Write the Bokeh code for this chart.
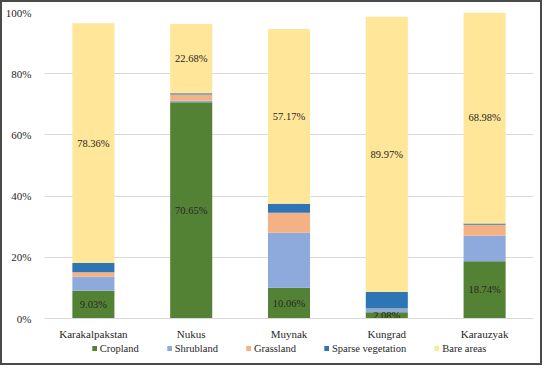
from bokeh.plotting import figure
from bokeh.layouts import column
from bokeh.models import FactorRange, Range1d, Legend, LegendItem, PrintfTickFormatter, ColumnDataSource
from bokeh.core.properties import value
from bokeh.embed import file_html
from bokeh.resources import INLINE

categories = ["Karakalpakstan", "Nukus", "Muynak", "Kungrad", "Karauzyak"]
cropland = [9.03, 70.65, 10.06, 2.08, 18.74]
shrubland = [4.6, 0.5, 18.0, 1.0, 8.3]
grassland = [1.5, 2.05, 6.5, 0.15, 3.6]
sparse = [3.0, 0.4, 2.9, 5.4, 0.4]
bare = [78.36, 22.68, 57.17, 89.97, 68.98]

series = ["Cropland", "Shrubland", "Grassland", "Sparse vegetation", "Bare areas"]
colors = ["#548235", "#8EA9DB", "#F4B183", "#2E75B6", "#FFE699"]

FONT = "Liberation Serif"
TXT = "#262626"
EDGE = "2px solid #4a4a4a"
W = 542
ML, MR = 38, 11

data = dict(cat=categories, Cropland=cropland, Shrubland=shrubland, Grassland=grassland,
            **{"Sparse vegetation": sparse, "Bare areas": bare})
src = ColumnDataSource(data)

p = figure(x_range=FactorRange(*categories), y_range=Range1d(0, 100),
           width=W, height=340, output_backend="svg", toolbar_location=None,
           min_border_left=ML, min_border_right=MR, min_border_top=10, min_border_bottom=20)
p.styles = {"border-top": EDGE, "border-left": EDGE, "border-right": EDGE}

p.vbar_stack(series, x="cat", width=0.43, color=colors, source=src, line_width=0)

crop_mid = [c / 2 for c in cropland]
bare_base = [c + s + g + v for c, s, g, v in zip(cropland, shrubland, grassland, sparse)]
bare_mid = [b + v / 2 for b, v in zip(bare_base, bare)]
lbl_x = categories + categories
lbl_y = crop_mid + bare_mid
lbl_t = [f"{v:.2f}%" for v in cropland] + [f"{v:.2f}%" for v in bare]
p.text(x=lbl_x, y=lbl_y, text=lbl_t, text_font=value(FONT), text_font_size="10.5px",
       text_color=TXT, text_align="center", text_baseline="middle")

p.yaxis.ticker = [0, 20, 40, 60, 80, 100]
p.yaxis.formatter = PrintfTickFormatter(format="%d%%")
p.yaxis.axis_line_color = None
p.yaxis.major_tick_line_color = None
p.yaxis.minor_tick_line_color = None
p.xaxis.major_tick_line_color = None
p.xaxis.axis_line_color = "#D9D9D9"
p.xaxis.axis_line_width = 1
for ax in (p.xaxis, p.yaxis):
    ax.major_label_text_font = FONT
    ax.major_label_text_font_size = "11px"
    ax.major_label_text_color = TXT
p.yaxis.major_label_standoff = 7
p.xaxis.major_label_standoff = 3
p.xgrid.grid_line_color = None
p.ygrid.grid_line_color = "#D9D9D9"
p.outline_line_color = None

# legend strip below the chart: same series as hidden renderers, only the legend shows
lf = figure(x_range=FactorRange(*categories), y_range=Range1d(-2, -1),
            width=W, height=25, output_backend="svg", toolbar_location=None,
            x_axis_location=None, y_axis_location=None,
            min_border_left=ML, min_border_right=MR, min_border_top=0, min_border_bottom=0)
lf.styles = {"border-bottom": EDGE, "border-left": EDGE, "border-right": EDGE}
lf.grid.grid_line_color = None
lf.outline_line_color = None
leg_renderers = lf.vbar_stack(series, x="cat", width=0.43, color=colors, source=src, line_width=0)
for r in leg_renderers:
    r.visible = False

legend = Legend(items=[LegendItem(label=s, renderers=[r]) for s, r in zip(series, leg_renderers)],
                orientation="horizontal", location="top_center", border_line_color=None,
                background_fill_alpha=0, inactive_fill_alpha=0,
                label_text_font=FONT, label_text_font_size="10.5px", label_text_color=TXT,
                glyph_width=6, glyph_height=6, spacing=27, label_standoff=3,
                label_height=14, padding=1, margin=1)
lf.add_layout(legend)

layout = column(p, lf, spacing=0)

open("out.html", "w").write(file_html(layout, INLINE))
